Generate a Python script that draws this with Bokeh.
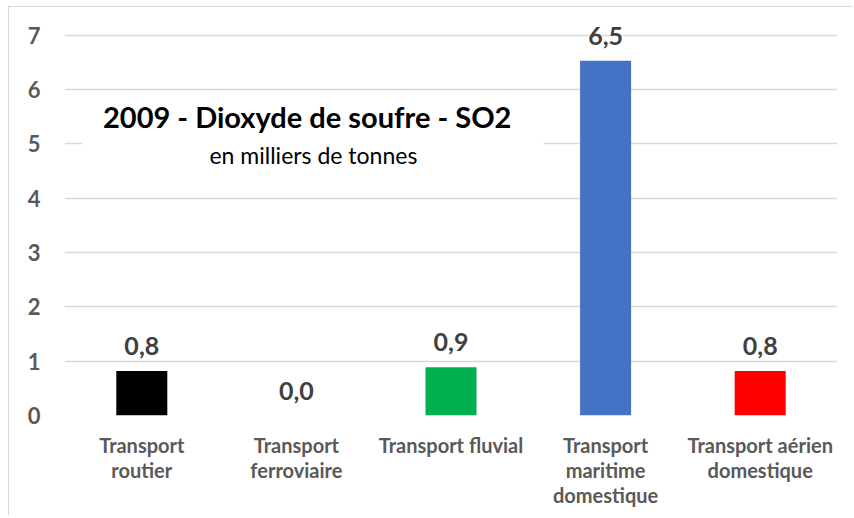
from bokeh.plotting import figure
from bokeh.models import ColumnDataSource, Range1d, FactorRange, BoxAnnotation
from bokeh.core.properties import value
from bokeh.embed import file_html
from bokeh.resources import INLINE

categories = ["Transport\nroutier", "Transport\nferroviaire", "Transport fluvial",
              "Transport\nmaritime\ndomestique", "Transport aérien\ndomestique"]
values = [0.82, 0.0, 0.89, 6.53, 0.82]
colors = ["#000000", "#a5a5a5", "#00b050", "#4472c4", "#ff0000"]
y_ticks = [0, 1, 2, 3, 4, 5, 6, 7]
title_text = "2009 - Dioxyde de soufre - SO2"
subtitle_text = "en milliers de tonnes"

labels = [f"{v:.1f}".replace(".", ",") for v in values]
src = ColumnDataSource(dict(cat=categories, val=values, color=colors, label=labels))

FONT = "Lato"
p = figure(width=844, height=509, x_range=FactorRange(*categories, range_padding=0),
           y_range=Range1d(0, 7.31), output_backend="svg", toolbar_location=None,
           min_border_left=55, min_border_right=16, min_border_top=11, min_border_bottom=101)
p.outline_line_color = None
p.xgrid.grid_line_color = None
p.ygrid.grid_line_color = "#d9d9d9"
p.ygrid.grid_line_width = 1.5
p.yaxis.ticker = y_ticks

for ax in (p.xaxis, p.yaxis):
    ax.axis_line_color = None
    ax.major_tick_line_color = None
    ax.minor_tick_line_color = None
    ax.major_tick_out = 0
    ax.major_tick_in = 0
    ax.major_label_text_font = FONT
    ax.major_label_text_font_style = "bold"
    ax.major_label_text_color = "#595959"

p.yaxis.major_label_text_font_size = "22px"
p.yaxis.major_label_standoff = 24
p.xaxis.major_label_text_font_size = "20px"
p.xaxis.major_label_standoff = 17
p.xaxis.major_label_text_line_height = 1.05
p.xaxis.major_label_text_baseline = "top"
p.xaxis.major_label_orientation = "horizontal"

p.vbar(x="cat", top="val", width=0.33, fill_color="color", line_color=None, source=src)
p.text(x="cat", y="val", text="label", source=src, text_align="center",
       text_baseline="alphabetic", y_offset=-25, text_font=value(FONT),
       text_font_style="bold", text_font_size="25px", text_color="#404040")

# title box covering the gridline behind the title
p.add_layout(BoxAnnotation(left=0.116, right=3.10, bottom=4.3, top=5.7,
                           fill_color="white", fill_alpha=1.0, line_color=None,
                           level="underlay"))
p.text(x=[1.57], y=[5.5], text=[title_text], text_align="center", text_baseline="middle",
       text_font=value(FONT), text_font_style="bold", text_font_size="29px", text_color="#000000")
p.text(x=[1.61], y=[4.8], text=[subtitle_text], text_align="center", text_baseline="middle",
       text_font=value(FONT), text_font_size="23px", text_color="#000000")

p.styles = {"margin-left": "8px", "margin-top": "6px",
            "border-top": "1px solid #d9d9d9", "border-left": "1px solid #d9d9d9"}

open("out.html", "w").write(file_html(p, INLINE))
